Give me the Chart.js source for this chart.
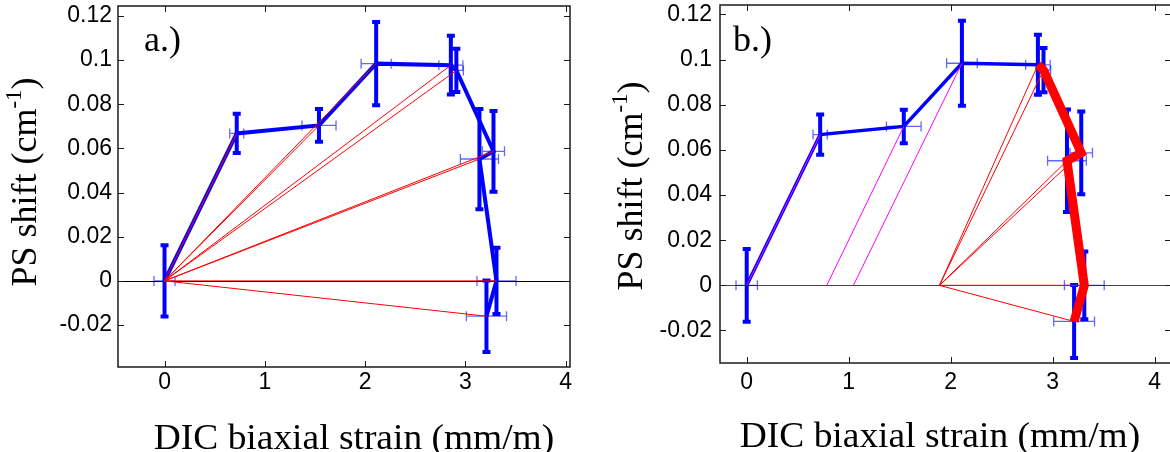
<!DOCTYPE html>
<html>
<head>
<meta charset="utf-8">
<script src="https://cdn.jsdelivr.net/npm/chart.js@4.4.1/dist/chart.umd.min.js"></script>
<style>
html, body { margin: 0; padding: 0; width: 1170px; height: 452px; overflow: hidden; background: #fff; }
canvas { position: absolute; top: 0; }
#chartA { left: 0; }
#chartB { left: 585px; }
</style>
</head>
<body>
<canvas id="chartA" width="585" height="452"></canvas>
<canvas id="chartB" width="600" height="452"></canvas>
<script>
// Measured points (DIC biaxial strain vs PS shift) with their error bars
const strain    = [0, 0.72, 1.54, 2.11, 2.855, 2.91, 3.28, 3.14, 3.31, 3.21];
const shift     = [0, 0.0668, 0.0704, 0.0984, 0.0977, 0.0953, 0.0587, 0.0552, 0, -0.0160];
const strainErr = [0.105, 0.07, 0.17, 0.15, 0.12, 0.07, 0.11, 0.19, 0.195, 0.2];
const shiftErr  = [0.0161, 0.0089, 0.0074, 0.0188, 0.0133, 0.0098, 0.0183, 0.0227, 0.0150, 0.0162];

// Panel a: every point joined to the origin
const fanStartA = 0;
const fanEndsA  = [1, 2, 3, 4, 5, 6, 7, 8, 9];

// Panel b: loading branch (blue), unloading branch (thick red), unload rays
const loadIdxB     = [0, 1, 2, 3, 4];
const unloadIdxB   = [4, 5, 6, 7, 8, 9];
const magStartsB   = [0, 0.785, 1.046];
const magEndsB     = [1, 2, 3];
const redStartB    = 1.89;
const redEndsB     = [4, 5, 6, 7, 8, 9];

const xTickVals = [0, 1, 2, 3, 4];
const yStep = 0.02;

const xTitle = 'DIC biaxial strain (mm/m)';
const yTitleMain = 'PS shift (cm';
const yTitleSup = '-1';
const yTitleEnd = ')';

Chart.defaults.font.family = '"Liberation Sans", Arial, sans-serif';
Chart.defaults.color = '#000';

function pt(i) { return { x: strain[i], y: shift[i] }; }

// error bars and the zero line, under the lines
const errorBarPlugin = {
    id: 'errorBars',
    beforeDatasetsDraw(chart, args, opts) {
        const { ctx, chartArea: a, scales: { x, y } } = chart;
        ctx.save();
        ctx.beginPath();
        ctx.rect(a.left, a.top, a.right - a.left, a.bottom - a.top);
        ctx.clip();

        const y0 = Math.round(y.getPixelForValue(0)) + 0.5;
        ctx.strokeStyle = opts.zeroColor;
        ctx.lineWidth = 1;
        ctx.beginPath();
        ctx.moveTo(a.left, y0);
        ctx.lineTo(a.right, y0);
        ctx.stroke();

        // horizontal (strain) bars
        ctx.strokeStyle = 'rgba(0,0,255,0.6)';
        ctx.lineWidth = 1.3;
        strain.forEach((sx, i) => {
            const py = y.getPixelForValue(shift[i]);
            const x1 = x.getPixelForValue(sx - strainErr[i]);
            const x2 = x.getPixelForValue(sx + strainErr[i]);
            ctx.beginPath();
            ctx.moveTo(x1, py); ctx.lineTo(x2, py);
            ctx.moveTo(x1, py - 5); ctx.lineTo(x1, py + 5);
            ctx.moveTo(x2, py - 5); ctx.lineTo(x2, py + 5);
            ctx.stroke();
        });

        // vertical (shift) bars
        ctx.strokeStyle = '#0000ff';
        ctx.lineWidth = 4;
        ctx.lineCap = 'butt';
        strain.forEach((sx, i) => {
            const px = x.getPixelForValue(sx);
            const y1 = y.getPixelForValue(shift[i] + shiftErr[i]);
            const y2 = y.getPixelForValue(shift[i] - shiftErr[i]);
            ctx.beginPath();
            ctx.moveTo(px, y1 - 1.5); ctx.lineTo(px, y2 + 1.5);
            ctx.moveTo(px - 4, y1); ctx.lineTo(px + 4, y1);
            ctx.moveTo(px - 4, y2); ctx.lineTo(px + 4, y2);
            ctx.stroke();
        });
        ctx.restore();
    }
};

// box, inward ticks on all four sides, titles and panel letter
const framePlugin = {
    id: 'frame',
    afterDraw(chart, args, o) {
        const { ctx, chartArea: a, scales: { x, y } } = chart;
        ctx.save();
        ctx.strokeStyle = '#1a1a1a';
        ctx.lineWidth = 1;
        x.ticks.forEach(t => {
            const px = Math.round(x.getPixelForValue(t.value)) + 0.5;
            ctx.beginPath();
            ctx.moveTo(px, a.bottom); ctx.lineTo(px, a.bottom - 6);
            ctx.moveTo(px, a.top); ctx.lineTo(px, a.top + 6);
            ctx.stroke();
        });
        y.ticks.forEach(t => {
            const py = Math.round(y.getPixelForValue(t.value)) + 0.5;
            ctx.beginPath();
            ctx.moveTo(a.left, py); ctx.lineTo(a.left + 6, py);
            ctx.moveTo(a.right, py); ctx.lineTo(a.right - 6, py);
            ctx.stroke();
        });
        ctx.lineWidth = 1.5;
        ctx.strokeRect(a.left, a.top, a.right - a.left, a.bottom - a.top);

        ctx.fillStyle = '#000';
        // x title, slightly wide like the original
        ctx.font = '35px "Liberation Serif", "Times New Roman", serif';
        ctx.textAlign = 'center';
        ctx.textBaseline = 'alphabetic';
        ctx.save();
        ctx.translate(o.xTitleX, o.xTitleY);
        ctx.scale(1.07, 1);
        ctx.fillText(xTitle, 0, 0);
        ctx.restore();

        // y title with superscript
        ctx.save();
        ctx.translate(o.yTitleX, o.yTitleY);
        ctx.rotate(-Math.PI / 2);
        ctx.textAlign = 'left';
        ctx.textBaseline = 'middle';
        const big = '36px "Liberation Serif", "Times New Roman", serif';
        const small = '23px "Liberation Serif", "Times New Roman", serif';
        ctx.font = big;
        const w1 = ctx.measureText(yTitleMain).width;
        const w3 = ctx.measureText(yTitleEnd).width;
        ctx.font = small;
        const w2 = ctx.measureText(yTitleSup).width;
        let cx = -(w1 + w2 + w3) / 2;
        ctx.font = big;
        ctx.fillText(yTitleMain, cx, 0);
        cx += w1;
        ctx.font = small;
        ctx.fillText(yTitleSup, cx, -12);
        cx += w2;
        ctx.font = big;
        ctx.fillText(yTitleEnd, cx, 0);
        ctx.restore();

        // panel letter
        ctx.font = '36px "Liberation Serif", "Times New Roman", serif';
        ctx.textAlign = 'left';
        ctx.textBaseline = 'alphabetic';
        ctx.fillText(o.label, o.labelX, o.labelY);
        ctx.restore();
    }
};

function lineSet(data, color, width, order, join) {
    return {
        data: data,
        showLine: true,
        borderColor: color,
        backgroundColor: color,
        borderWidth: width,
        borderJoinStyle: join || 'miter',
        pointRadius: 0,
        tension: 0,
        order: order
    };
}

function makeChart(id, datasets, p) {
    const canvas = document.getElementById(id);
    return new Chart(canvas.getContext('2d'), {
        type: 'scatter',
        data: { datasets: datasets },
        options: {
            responsive: false,
            animation: false,
            events: [],
            layout: {
                padding: { left: 0, top: p.area.top, right: canvas.width - p.area.right, bottom: 0 }
            },
            plugins: {
                legend: { display: false },
                tooltip: { enabled: false },
                errorBars: { zeroColor: p.zeroColor },
                frame: p
            },
            scales: {
                x: {
                    type: 'linear',
                    min: p.xMin,
                    max: p.xMax,
                    grid: { display: false, drawTicks: false },
                    border: { display: false },
                    ticks: {
                        stepSize: 1,
                        includeBounds: false,
                        autoSkip: false,
                        maxRotation: 0,
                        padding: p.xPad,
                        font: { size: 23 },
                        callback: v => xTickVals.includes(v) ? String(v) : ''
                    },
                    afterFit(s) {
                        s.height = canvas.height - p.area.bottom;
                        s.paddingLeft = 0; s.paddingRight = 0;
                    }
                },
                y: {
                    type: 'linear',
                    min: p.yMin,
                    max: p.yMax,
                    grid: { display: false, drawTicks: false },
                    border: { display: false },
                    ticks: {
                        stepSize: yStep,
                        includeBounds: false,
                        autoSkip: false,
                        padding: p.yPad,
                        font: { size: 23 },
                        callback: v => String(parseFloat(v.toFixed(3)))
                    },
                    afterFit(s) {
                        s.width = p.area.left;
                        s.paddingTop = 0; s.paddingBottom = 0;
                    }
                }
            }
        },
        plugins: [errorBarPlugin, framePlugin]
    });
}

// panel a
const fanA = fanEndsA.map(i => lineSet([{ x: fanStartA, y: 0 }, pt(i)], '#ff0000', 1, 0));
makeChart('chartA', [
    ...fanA,
    lineSet(strain.map((s, i) => pt(i)), '#0000ff', 4, 1)
], {
    area: { left: 118, top: 6, right: 570, bottom: 367 },
    xMin: -0.464, xMax: 4.043, yMin: -0.039, yMax: 0.1245,
    xPad: 2, yPad: 6,
    zeroColor: '#000',
    label: 'a.)', labelX: 144, labelY: 51,
    xTitleX: 354, xTitleY: 449,
    yTitleX: 27, yTitleY: 182
});

// panel b
makeChart('chartB', [
    lineSet(unloadIdxB.map(pt), '#ff0000', 9, 0),
    ...redEndsB.map(i => lineSet([{ x: redStartB, y: 0 }, pt(i)], '#ff0000', 1, 1)),
    ...magEndsB.map((i, k) => lineSet([{ x: magStartsB[k], y: 0 }, pt(i)], '#ff00ff', 1, 2)),
    lineSet(loadIdxB.map(pt), '#0000ff', 3.5, 3)
], {
    area: { left: 135, top: 5, right: 586, bottom: 363 },
    xMin: -0.262, xMax: 4.16, yMin: -0.0344, yMax: 0.1242,
    xPad: 6, yPad: 8,
    zeroColor: '#444',
    label: 'b.)', labelX: 148, labelY: 51,
    xTitleX: 355, xTitleY: 447,
    yTitleX: 48, yTitleY: 186
});
</script>
</body>
</html>
